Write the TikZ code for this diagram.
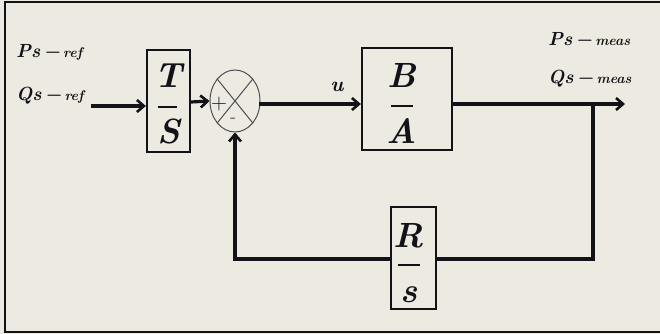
\documentclass[tikz,border=0pt]{standalone}
\usepackage{fontspec}
\usetikzlibrary{arrows.meta,shapes.geometric}
\definecolor{bgc}{HTML}{EDEBE1}
\definecolor{ink}{HTML}{121218}
\newcommand{\bmi}[1]{{\bfseries\itshape #1}}
\newcommand{\subtxt}[1]{{\fontsize{14}{14}\selectfont\bfseries\itshape #1}}
\newcommand{\mainsig}[2]{{\bfseries\itshape #1\hspace{3pt}−\hspace{3pt}}\subtxt{#2}}
\begin{document}
\begin{tikzpicture}[x=1pt,y=-1pt,
  conn/.style={draw=ink,line width=3.2pt,line cap=rect},
  arr/.style={conn,-{Straight Barb[length=7pt,width=12pt,line width=2.6pt]}},
  blk/.style={draw=ink,line width=2.2pt,rectangle,inner sep=0pt},
  lbl/.style={text=ink,inner sep=0pt,font=\fontsize{19}{19}\selectfont},
  big/.style={text=ink,inner sep=0pt,anchor=base,font=\fontsize{35}{35}\selectfont},
  bar/.style={draw=ink,line width=2.4pt}]
\fill[bgc] (0,0) rectangle (660,334);
\useasboundingbox (0,0) rectangle (660,334);
\draw[ink,line width=2.6pt] (670,2) -- (5,2) -- (5,332) -- (670,332);
% labels left
\node[lbl,anchor=base west] (psref) at (16,58) {\mainsig{Ps}{ref}};
\node[lbl,anchor=base west] (qsref) at (16,100) {\mainsig{Qs}{ref}};
% T/S block
\node[blk,minimum width=43pt,minimum height=102pt] (ts) at (168.5,101) {};
\node[big] (tsn) at (168.5,88) {\bmi{T}};
\draw[bar] (158,107) -- (177,107);
\node[big] (tsd) at (168.5,143) {\bmi{S}};
% sum
\node[draw=ink!75,line width=1pt,ellipse,minimum width=50pt,minimum height=62pt,inner sep=0pt] (sum) at (235,101) {};
\draw[ink!75,line width=1pt] (sum.north west) -- (sum.south east) (sum.north east) -- (sum.south west);
\node[text=ink,inner sep=0pt,font=\fontsize{22}{22}\selectfont] (plus) at (219,104) {+};
\node[text=ink,inner sep=0pt,font=\fontsize{18}{18}\selectfont] (minus) at (233,120) {-};
% B/A block
\node[blk,minimum width=90pt,minimum height=102pt] (ba) at (407,99) {};
\node[big] (ban) at (402,88) {\bmi{B}};
\draw[bar] (391,106) -- (413,106);
\node[big] (bad) at (402,143) {\bmi{A}};
% R/s block
\node[blk,minimum width=45pt,minimum height=102pt] (rs) at (413.5,258) {};
\node[big] (rsn) at (409,247) {\bmi{R}};
\draw[bar] (398,265) -- (420,265);
\node[big] (rsd) at (409,302) {\bmi{s}};
% output labels
\node[lbl,anchor=base west] (psmeas) at (548,46) {\mainsig{Ps}{meas}};
\node[lbl,anchor=base west] (qsmeas) at (548,84) {\mainsig{Qs}{meas}};
\node[lbl,anchor=base,font=\fontsize{21}{21}\selectfont] (u) at (337,92) {\bmi{u}};
% connectors
\coordinate (in) at (93,106);
\coordinate (out) at (625,104);
\coordinate (br) at (593,104);
\coordinate (fbr) at (593,259);
\coordinate (fbl) at (235,259);
\draw[arr] (in) -- (ts.west |- in);
\draw[arr] (ts.east |- 0,102) -- (sum.west);
\draw[arr] (sum.east |- 0,104) -- (ba.west |- 0,104);
\draw[arr] (ba.east |- out) -- (out);
\draw[conn] (br) -- (fbr) -- (rs.east |- fbr);
\draw[conn] (rs.west |- fbl) -- (fbl);
\draw[arr] (fbl) -- (sum.south);
\end{tikzpicture}
\end{document}
